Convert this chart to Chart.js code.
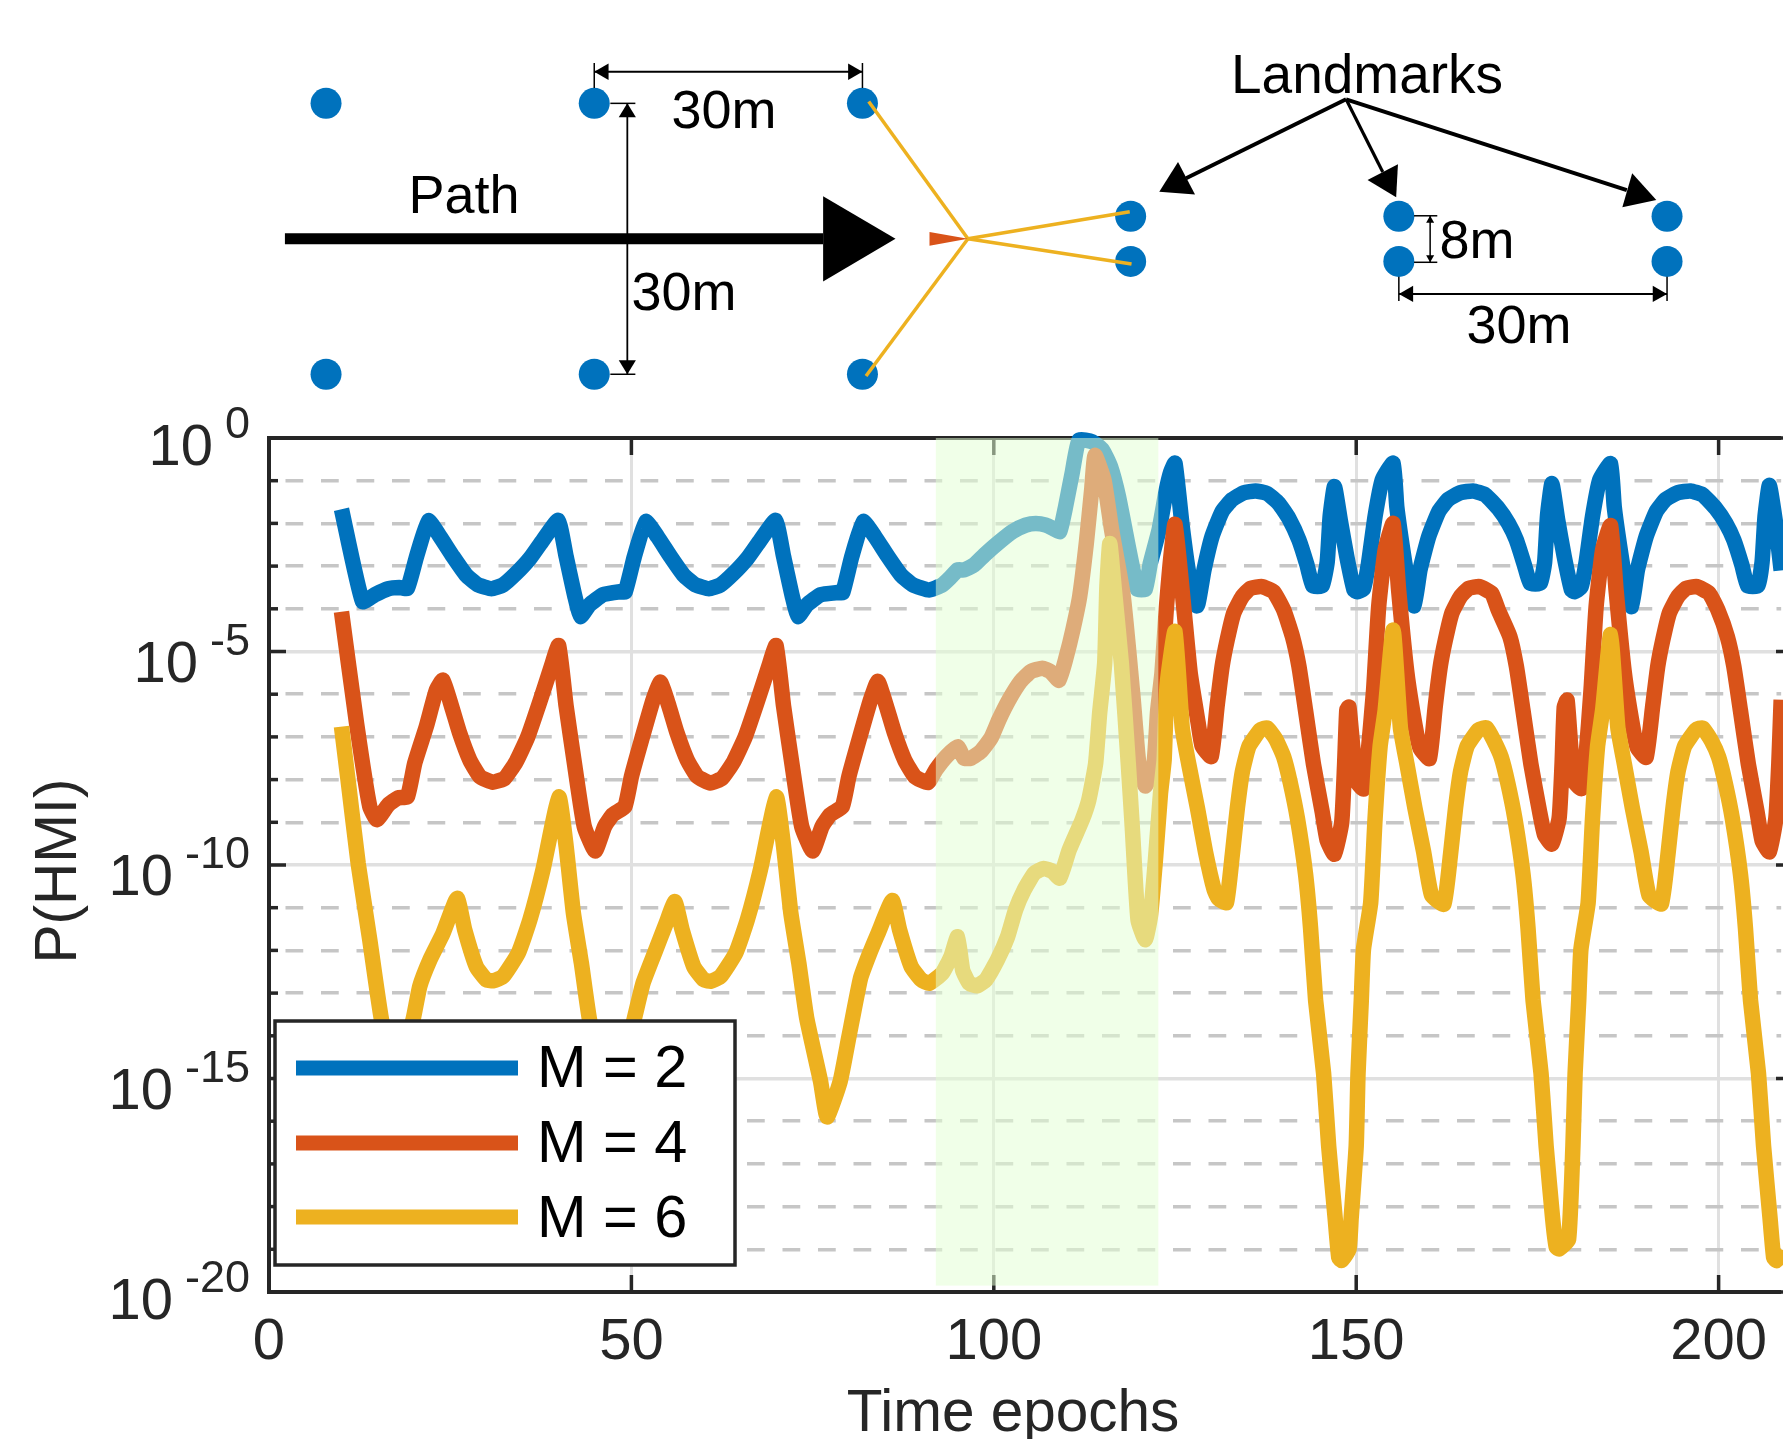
<!DOCTYPE html>
<html><head><meta charset="utf-8">
<script src="https://cdn.jsdelivr.net/npm/chart.js@4"></script>
<style>
html,body{margin:0;padding:0;background:#fff;overflow:hidden}
#wrap{position:relative;width:1783px;height:1439px}
canvas{position:absolute;left:0}
#main{top:0}
#scene{top:0}
</style></head><body>
<div id="wrap"><canvas id="main" width="1783" height="1439"></canvas><canvas id="scene" width="1783" height="400"></canvas></div>
<script>
// ---- main chart data: time epoch, log10 P(HMI) ----
const xTicks=[0,50,100,150,200];
const yExponents=[0,-1,-2,-3,-4,-5,-6,-7,-8,-9,-10,-11,-12,-13,-14,-15,-16,-17,-18,-19,-20];
const yLabelled=[0,-5,-10,-15,-20];
const seriesLabels=['M = 2','M = 4','M = 6'];

const m2X=[10,12.9,14.6,16.45,18,19.1,20.35,22,23.6,25.4,27.2,28.85,30.7,32.3,34.1,36,37.8,39.9,41,42.2,43,44.2,46.1,48.4,49.15,50.4,52,53.6,55.4,57.2,58.85,60.7,62.3,64.1,66,67.8,69.9,71,72.2,73,74.2,76.1,78.4,79.15,80.4,82,83.6,85.4,87.2,88.85,91.08,92.9,94.1,95,95.9,97.3,98.7,100.5,102.6,104.4,105.8,107.2,108.3,109.1,109.9,110.8,111.75,113.6,115,116.1,117.2,118.55,119.3,119.8,120.9,121.6,122.8,123.8,124.4,125,126,126.9,128.06,129,130.1,131.5,132.9,134.5,136.1,137.7,139.3,140.7,142.1,143.2,144,145.3,146,146.4,147,147.8,148.7,149.7,150.1,151,151.7,152.6,153.6,155.1,155.6,156.5,157.2,158,158.8,160,161.4,162.7,164.4,166.1,167.8,169.6,171,172.1,173.2,174,175.4,176,176.4,177,177.8,178.7,179.7,180.1,181,181.7,182.6,183.6,185.1,185.6,186.5,187.2,188,188.8,190,191.4,192.7,194.4,196.1,197.8,199.6,201,202.1,203.2,204,205.4,206,206.4,207,207.8,208.63];
const m2Log=[-1.67,-3.83,-3.67,-3.53,-3.5,-3.52,-2.78,-1.94,-2.31,-2.78,-3.21,-3.44,-3.53,-3.44,-3.17,-2.82,-2.39,-1.93,-2.78,-3.71,-4.18,-3.91,-3.67,-3.6,-3.6,-2.78,-1.96,-2.31,-2.78,-3.21,-3.44,-3.53,-3.44,-3.17,-2.82,-2.39,-1.93,-2.78,-3.71,-4.18,-3.91,-3.67,-3.62,-3.62,-2.78,-1.96,-2.31,-2.78,-3.21,-3.44,-3.56,-3.44,-3.25,-3.09,-3.09,-2.97,-2.74,-2.47,-2.19,-2.04,-2,-2.04,-2.13,-2.19,-1.61,-0.83,-0.05,-0.09,-0.28,-0.67,-1.37,-2.54,-3.17,-3.54,-3.54,-2.93,-2.15,-1.22,-0.8,-0.59,-2.08,-3.17,-3.93,-3.09,-2.31,-1.72,-1.44,-1.28,-1.24,-1.3,-1.53,-1.88,-2.39,-2.97,-3.46,-3.46,-2.9,-1.84,-1.14,-1.92,-2.78,-3.56,-3.6,-3.53,-2.93,-1.84,-0.98,-0.59,-1.61,-2.7,-3.4,-3.93,-3.09,-2.31,-1.72,-1.44,-1.28,-1.24,-1.33,-1.65,-2,-2.39,-2.97,-3.4,-3.4,-2.9,-1.8,-1.07,-1.92,-2.78,-3.56,-3.6,-3.5,-2.93,-1.84,-0.98,-0.6,-1.61,-2.7,-3.4,-3.95,-3.09,-2.31,-1.72,-1.44,-1.28,-1.24,-1.33,-1.65,-2,-2.39,-2.97,-3.46,-3.46,-2.9,-1.84,-1.11,-1.92,-3.1];

const m4X=[10,12.08,13.9,14.9,16.45,17.8,19.1,20.1,21.7,23.1,24,25.2,26.3,27.7,29.1,30.9,32.5,34.1,35.7,37.3,38.95,39.96,41,42.2,43.5,45,46.3,47.45,49.1,50,51.4,53,54,55.2,56.3,57.7,59.1,60.9,62.5,64.1,65.7,67.3,68.95,69.96,71,72.2,73.5,75,76.3,77.45,79.1,80,81.4,83,84,85.2,86.3,87.7,89.1,90.9,92,93.5,95,95.9,96.8,98.2,99.6,100.7,102.1,103.7,105.1,106.7,107.8,109,110,110.9,111.85,112.76,113.5,113.96,115.2,116.25,117.85,119.2,120,120.9,122.1,122.6,123.2,123.8,124.3,125,126.2,127.1,128.2,128.75,130,130.8,131.5,132.2,133.1,134.3,135.4,137,138.6,140,141.2,142.1,143,144.1,145.3,146,147,148,148.4,148.7,149,149.65,150.2,151,151.6,152.4,153.1,154,155.1,155.85,157,158.15,158.8,160.1,160.9,161.6,162.3,163.2,164.4,165.5,167,168.7,169.6,171.2,172.1,173,174.1,175.3,176,177,178,178.4,178.7,179.1,179.7,180.2,181.1,181.7,182.4,183.1,184,185.1,185.85,187,188.15,188.8,190,190.9,191.6,192.3,193.2,194.4,195.5,197,198.7,199.9,201.2,202.1,203,204.1,205.3,206,207,207.9,208.3,208.63];
const m4Log=[-4.07,-6.68,-8.63,-8.94,-8.59,-8.43,-8.4,-7.62,-6.76,-5.9,-5.67,-6.29,-6.91,-7.54,-7.93,-8.06,-7.97,-7.58,-7,-6.21,-5.35,-4.86,-6.29,-7.69,-9.1,-9.67,-9.1,-8.82,-8.63,-7.93,-7.07,-6.13,-5.72,-6.29,-6.91,-7.54,-7.93,-8.08,-7.97,-7.58,-7,-6.21,-5.35,-4.86,-6.29,-7.69,-9.1,-9.67,-9.1,-8.82,-8.63,-7.93,-7.07,-6.13,-5.7,-6.29,-6.91,-7.54,-7.93,-8.07,-7.77,-7.45,-7.23,-7.5,-7.5,-7.34,-7.03,-6.6,-6.13,-5.7,-5.47,-5.39,-5.47,-5.67,-5.12,-4.5,-3.71,-2.47,-1.22,-0.41,-0.98,-2.15,-3.7,-6.06,-7.62,-8.15,-7.62,-6.4,-5.5,-4,-3,-2.02,-3.95,-5.51,-6.68,-7.22,-7.46,-6.29,-5.35,-4.73,-4.1,-3.71,-3.52,-3.48,-3.6,-4.03,-4.65,-5.35,-6.37,-7.64,-8.75,-9.43,-9.75,-9,-7.64,-6.37,-6.3,-7.46,-8.08,-8.22,-7.46,-5.9,-3.95,-2.62,-2,-3.56,-5.51,-6.76,-7.26,-7.51,-6.29,-5.35,-4.73,-4.1,-3.71,-3.52,-3.48,-3.64,-4.03,-4.65,-5.35,-6.37,-7.64,-8.75,-9.3,-9.51,-8.9,-7.64,-6.3,-6.14,-7.46,-8.08,-8.21,-7.46,-5.9,-3.95,-2.62,-2.05,-3.56,-5.51,-6.76,-7.26,-7.48,-6.29,-5.35,-4.73,-4.1,-3.71,-3.52,-3.48,-3.64,-4.03,-4.65,-5.35,-6.37,-7.64,-8.75,-9.43,-9.69,-8.9,-7.64,-6.13];

const m6X=[10,10.9,12.3,13.9,15.5,17.5,19.9,20.8,22.2,24,25.96,27,28.6,30,31,32.3,34.4,36,37.8,40,41,42,43.1,44.2,47,50.4,51.6,53.2,54.8,56,57,58.6,60,61,62.3,64.4,66,67.8,70,71,72,73.1,74.2,76.1,77,78.8,80,81.6,82.8,84,86,87,88.6,90,91.08,92.9,94.1,95,95.7,96.6,97.7,98.9,100.5,101.9,103,104.2,105.6,106.9,108.1,109.1,110.4,112.2,113.1,114.05,114.6,115.3,115.6,116,116.6,117.6,118.55,119.1,119.9,120.9,121.6,122.3,123,123.5,123.9,125,126,126.9,128.1,129.2,130.4,131,132.1,132.9,133.6,134.3,135.2,136.8,137.7,138.9,140,140.9,141.9,143,143.7,144.4,145.5,146.2,147.1,147.6,148,149,149.3,150,150.25,150.7,151,152,152.6,153.3,154,155.1,156.1,157,158.1,159.3,160.4,162.1,163,163.7,164.4,165.3,166.9,168,169,170,170.9,171.9,173,173.7,174.4,175.5,176.2,177.1,177.6,178,179.3,179.9,180.2,180.7,181,182,182.6,183.3,184,185.1,186.1,187,188.1,189.3,190.4,192.1,193,193.7,194.4,195.3,196.9,197.8,199,200,200.9,201.9,203,203.7,204.4,205.5,206.2,207.1,207.6,208,208.63];
const m6Log=[-6.76,-8,-9.96,-11.75,-13.6,-15,-13.6,-12.84,-12.22,-11.6,-10.78,-11.52,-12.38,-12.69,-12.71,-12.61,-12.06,-11.28,-10.11,-8.41,-9.57,-11.13,-12.3,-13.6,-15.8,-13.6,-12.77,-12.06,-11.36,-10.86,-11.52,-12.38,-12.69,-12.72,-12.61,-12.06,-11.28,-10.11,-8.41,-9.57,-11.13,-12.3,-13.6,-15.07,-15.9,-15.07,-14.03,-12.66,-12.1,-11.61,-10.83,-11.52,-12.38,-12.69,-12.77,-12.53,-12.14,-11.68,-12.46,-12.77,-12.83,-12.69,-12.22,-11.68,-11.05,-10.58,-10.19,-10.08,-10.15,-10.31,-9.65,-8.94,-8.48,-7.62,-6.45,-5.27,-3.5,-2.47,-3.5,-5.28,-7.62,-9.1,-11.29,-11.75,-11.21,-9.88,-8.32,-7.54,-5.8,-4.53,-6.79,-7.64,-8.67,-9.69,-10.58,-10.79,-10.88,-9.77,-8.67,-7.81,-7.22,-6.83,-6.79,-7.05,-7.47,-8.07,-8.92,-10.2,-11.47,-13.17,-14.88,-16.58,-18.28,-19.2,-19.26,-19,-18.28,-16.58,-14.88,-13.17,-11.98,-10.88,-8.92,-7.22,-6.37,-4.5,-6.79,-7.64,-8.67,-9.69,-10.71,-10.92,-9.77,-8.67,-7.81,-7.22,-6.83,-6.79,-7.09,-7.47,-8.07,-8.92,-10.2,-11.47,-13.17,-14.88,-16.58,-18.28,-18.95,-18.99,-18.77,-16.58,-14.88,-13.17,-11.98,-10.88,-8.92,-7.22,-6.37,-4.6,-6.79,-7.64,-8.67,-9.69,-10.71,-10.91,-9.77,-8.67,-7.81,-7.22,-6.83,-6.79,-7.09,-7.47,-8.07,-8.92,-10.2,-11.47,-13.17,-14.88,-16.58,-18.28,-19.2,-19.26,-19];

const highlightEpochs=[92,122.7];
const highlightLog=[0,-19.85];

// ---- scene above the chart, in metres ----
const landmarkX=[0,30,60,0,30,60,90,120,150,90,120,150];
const landmarkY=[15,15,15,-15,-15,-15,2.5,2.5,2.5,-2.5,-2.5,-2.5];
const receiver=[71.8,0];
const sightEndsX=[60.7,60.4,89.9,90.1];
const sightEndsY=[15.2,-15.2,3,-2.8];
const pathStartEnd=[-4.6,55.6];
const landmarkArrowFrom=[114.1,15.45];

const BLUE='#0072BD',RED='#D95319',YEL='#EDB120',INK='#262626',FONT='"Liberation Sans", Arial, sans-serif';
const toPts=(xs,ys)=>xs.map((x,i)=>({x,y:Math.pow(10,ys[i])}));

function lineDS(label,xs,ys,color,order){
  return {label,data:toPts(xs,ys),borderColor:color,backgroundColor:color,borderWidth:15.5,
    borderJoinStyle:'round',borderCapStyle:'butt',tension:0.15,pointRadius:0,order,clip:false,fill:false};
}

const decor={
  id:'decor',
  beforeDatasetsDraw(c){
    const {ctx,chartArea:a,scales:{x,y}}=c;
    ctx.save();
    ctx.fillStyle=INK;
    const T=3.5;
    xTicks.forEach(v=>{const p=x.getPixelForValue(v);
      ctx.fillRect(p-T/2,a.top,T,17);ctx.fillRect(p-T/2,a.bottom-17,T,17);});
    yExponents.forEach(e=>{const p=y.getPixelForValue(Math.pow(10,e));
      const len=e%5===0?17:9;
      ctx.fillRect(a.left,p-T/2,len,T);
      ctx.fillRect(1793-len,p-T/2,len,T);});
    ctx.fillRect(a.left-2,a.top-2,a.right-a.left+2,4);
    ctx.fillRect(a.left-2,a.bottom-2,a.right-a.left+2,4);
    ctx.fillRect(a.left-2,a.top-2,4,a.bottom-a.top+4);
    ctx.restore();
  },
  afterDatasetsDraw(c){
    const {ctx,scales:{x,y}}=c;
    ctx.save();
    // highlighted stretch, translucent over the curves
    const x0=x.getPixelForValue(highlightEpochs[0]),x1=x.getPixelForValue(highlightEpochs[1]);
    const y0=y.getPixelForValue(Math.pow(10,highlightLog[0])),y1=y.getPixelForValue(Math.pow(10,highlightLog[1]));
    ctx.fillStyle='rgba(227,255,211,0.52)';
    ctx.fillRect(x0,y0,x1-x0,y1-y0);
    // legend
    ctx.fillStyle='#fff';ctx.fillRect(275,1021,460,244);
    ctx.strokeStyle=INK;ctx.lineWidth=3.5;ctx.strokeRect(275,1021,460,244);
    const rowY=[1068,1143,1217],baseY=[1087,1162,1237];
    c.data.datasets.forEach((d,i)=>{
      ctx.fillStyle=d.borderColor;ctx.fillRect(296,rowY[i]-7.5,222,15);
      ctx.fillStyle='#000';ctx.font='59.5px '+FONT;ctx.textAlign='left';ctx.textBaseline='alphabetic';
      ctx.fillText(d.label,537,baseY[i]);
    });
    // y tick labels with raised exponents
    ctx.fillStyle=INK;
    yLabelled.forEach(e=>{
      const p=y.getPixelForValue(Math.pow(10,e));
      const edge=(e===0||e===-20);
      ctx.textAlign='right';
      ctx.font='45px '+FONT;const s=String(e);const w=ctx.measureText(s).width;
      ctx.fillText(s,250,p+(edge?0:3));
      ctx.font='58px '+FONT;ctx.fillText('10',250-w-12,p+(edge?27:30));
    });
    // axis titles
    ctx.font='58.5px '+FONT;ctx.textAlign='center';
    ctx.fillText('Time epochs',1013,1431);
    ctx.save();ctx.translate(76,871);ctx.rotate(-Math.PI/2);ctx.fillText('P(HMI)',0,0);ctx.restore();
    ctx.restore();
  }
};

new Chart(document.getElementById('main'),{
  type:'line',
  data:{datasets:[
    lineDS(seriesLabels[0],m2X,m2Log,BLUE,3),
    lineDS(seriesLabels[1],m4X,m4Log,RED,2),
    lineDS(seriesLabels[2],m6X,m6Log,YEL,1)
  ]},
  plugins:[decor],
  options:{
    responsive:false,animation:false,devicePixelRatio:1,
    layout:{autoPadding:false,padding:{left:0,right:0,top:438,bottom:0}},
    plugins:{legend:{display:false},tooltip:{enabled:false}},
    scales:{
      x:{type:'linear',min:0,max:208.63,
        afterBuildTicks(s){s.ticks=xTicks.map(v=>({value:v}));},
        afterFit(s){s.height=147;},
        border:{display:false},
        grid:{color:'#e0e0e0',lineWidth:3,drawTicks:false},
        ticks:{autoSkip:false,maxRotation:0,padding:16,color:INK,font:{family:'Liberation Sans',size:58}}},
      y:{type:'logarithmic',min:1e-20,max:1,
        afterBuildTicks(s){s.ticks=yExponents.map(e=>({value:Math.pow(10,e)}));},
        afterFit(s){s.width=269;},
        border:{display:false,
          dash:c=>{const e=Math.round(Math.log10(c.tick.value));return e%5===0?[]:[17.75,17.75];},
          dashOffset:19},
        grid:{drawTicks:false,lineWidth:3.5,
          color:c=>{const e=Math.round(Math.log10(c.tick.value));
            if(e===0||e===-20)return 'rgba(0,0,0,0)';return e%5===0?'#e0e0e0':'#c6c6c6';}},
        ticks:{display:false}}
    }
  }
});

// ---- scene ----
const scene={
  id:'scene',
  afterDatasetsDraw(c){
    const {ctx,scales:{x,y}}=c;
    const X=v=>x.getPixelForValue(v),Y=v=>y.getPixelForValue(v);
    const line=(pts,w,col)=>{ctx.beginPath();pts.forEach((p,i)=>i?ctx.lineTo(X(p[0]),Y(p[1])):ctx.moveTo(X(p[0]),Y(p[1])));
      ctx.lineWidth=w;ctx.strokeStyle=col||'#000';ctx.stroke();};
    const poly=(pts,col)=>{ctx.beginPath();pts.forEach((p,i)=>i?ctx.lineTo(X(p[0]),Y(p[1])):ctx.moveTo(X(p[0]),Y(p[1])));
      ctx.closePath();ctx.fillStyle=col||'#000';ctx.fill();};
    ctx.save();
    // heading-path arrow
    line([[pathStartEnd[0],0],[pathStartEnd[1],0]],11);
    poly([[55.6,4.72],[55.6,-4.72],[63.7,0]]);
    // receiver
    poly([[67.5,0.75],[67.5,-0.76],receiver],RED);
    // top 30 m
    line([[30,18.5],[60,18.5]],2);line([[30,19.47],[30,16.7]],1.5);line([[60,19.47],[60,16.7]],1.5);
    poly([[30,18.5],[31.6,19.42],[31.6,17.58]]);poly([[60,18.5],[58.4,19.42],[58.4,17.58]]);
    // vertical 30 m
    line([[33.7,15],[33.7,-15]],1.8);line([[31.8,15],[34.6,15]],1.5);line([[31.8,-15],[34.6,-15]],1.5);
    poly([[33.7,15],[32.74,13.45],[34.66,13.45]]);poly([[33.7,-15],[32.74,-13.45],[34.66,-13.45]]);
    // 8 m
    line([[123.5,2.55],[123.5,-2.6]],1.5);line([[121.7,2.55],[124.3,2.55]],1.5);line([[121.7,-2.6],[124.3,-2.6]],1.5);
    poly([[123.5,2.55],[123.05,1.77],[123.95,1.77]]);poly([[123.5,-2.6],[123.05,-1.82],[123.95,-1.82]]);
    // lower 30 m
    line([[120,-6.1],[150,-6.1]],2);line([[120,-4.2],[120,-6.9]],1.5);line([[150,-4.2],[150,-6.9]],1.5);
    poly([[120,-6.1],[121.6,-5.2],[121.6,-7]]);poly([[150,-6.1],[148.4,-5.2],[148.4,-7]]);
    // landmark call-outs
    line([landmarkArrowFrom,[96.2,6.7]],4);poly([[93.2,5.2],[95.3,8.5],[97.2,4.9]]);
    line([landmarkArrowFrom,[118.2,7.4]],3.2);poly([[119.7,4.6],[119.9,8.25],[116.5,6.5]]);
    line([landmarkArrowFrom,[145.5,5.4]],4);poly([[148.8,4.3],[146.1,7.25],[145,3.5]]);
    // text
    ctx.fillStyle='#000';ctx.textAlign='center';ctx.textBaseline='alphabetic';
    ctx.font='54px '+FONT;
    ctx.fillText('30m',724,128);ctx.fillText('30m',684,310);ctx.fillText('Path',464,213);
    ctx.fillText('8m',1477,258);ctx.fillText('30m',1519,343);
    ctx.font='55px '+FONT;ctx.fillText('Landmarks',1367,93);
    ctx.restore();
  }
};
const sightSets=sightEndsX.map((sx,i)=>({type:'scatter',showLine:true,
  data:[{x:sx,y:sightEndsY[i]},{x:receiver[0],y:receiver[1]}],
  borderColor:YEL,borderWidth:3.5,pointRadius:0,order:1,tension:0}));
new Chart(document.getElementById('scene'),{
  type:'scatter',
  data:{datasets:[
    {label:'Landmarks',data:landmarkX.map((x,i)=>({x,y:landmarkY[i]})),pointRadius:15.5,
     pointBackgroundColor:BLUE,pointBorderWidth:0,showLine:false,order:2},
    ...sightSets
  ]},
  plugins:[scene],
  options:{
    responsive:false,animation:false,devicePixelRatio:1,
    layout:{autoPadding:false,padding:0},
    plugins:{legend:{display:false},tooltip:{enabled:false}},
    scales:{
      x:{type:'linear',display:false,min:-36.47,max:162.97},
      y:{type:'linear',display:false,min:-17.85,max:26.445}
    }
  }
});
</script>
</body></html>
